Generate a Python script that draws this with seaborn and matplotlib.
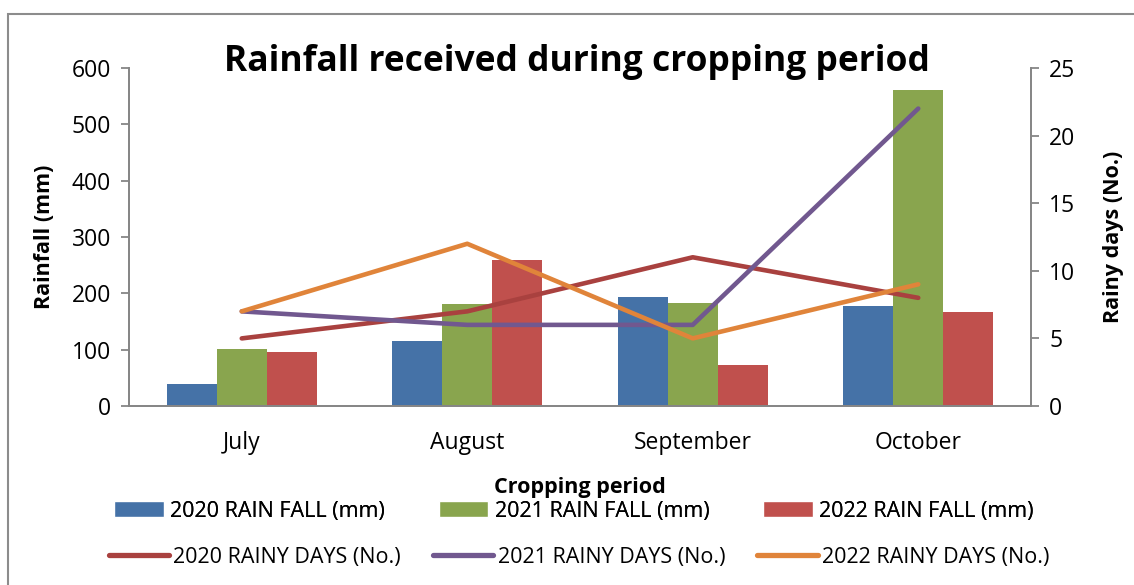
import matplotlib
matplotlib.use("Agg")
import matplotlib.pyplot as plt
import seaborn as sns
import pandas as pd
from matplotlib.patches import Rectangle
from matplotlib.lines import Line2D
from matplotlib.patches import Patch

months = ["July", "August", "September", "October"]
rain_2020 = [39, 115, 193, 178]
rain_2021 = [101, 181, 183, 561]
rain_2022 = [96, 259, 73, 167]
days_2020 = [5, 7, 11, 8]
days_2021 = [7, 6, 6, 22]
days_2022 = [7, 12, 5, 9]

bar_labels = ["2020 RAIN FALL (mm)", "2021 RAIN FALL (mm)", "2022 RAIN FALL (mm)"]
line_labels = ["2020 RAINY DAYS (No.)", "2021 RAINY DAYS (No.)", "2022 RAINY DAYS (No.)"]
bar_colors = ["#4572A7", "#89A54E", "#C0504D"]
line_colors = ["#A9413F", "#71588F", "#E0843A"]

sns.set_theme(style="white")
plt.rcParams["font.family"] = ["Open Sans", "DejaVu Sans"]
plt.rcParams["text.color"] = "black"
plt.rcParams["axes.labelcolor"] = "black"
plt.rcParams["xtick.color"] = "black"
plt.rcParams["ytick.color"] = "black"

bars = pd.DataFrame({
    "Month": months * 3,
    "Rain": rain_2020 + rain_2021 + rain_2022,
    "Series": [bar_labels[0]] * 4 + [bar_labels[1]] * 4 + [bar_labels[2]] * 4,
})
lines = pd.DataFrame({
    "Month": months * 3,
    "Days": days_2020 + days_2021 + days_2022,
    "Series": [line_labels[0]] * 4 + [line_labels[1]] * 4 + [line_labels[2]] * 4,
})

fig = plt.figure(figsize=(11.34, 5.85), dpi=100)
ax = fig.add_axes([129 / 1134, 1 - 406 / 585, (1031 - 129) / 1134, (406 - 68) / 585])

sns.barplot(data=bars, x="Month", y="Rain", hue="Series", palette=bar_colors,
            order=months, hue_order=bar_labels, width=0.667, saturation=1,
            ax=ax, legend=False, errorbar=None, linewidth=0)
ax.set_ylim(0, 600)
ax.set_yticks(range(0, 601, 100))

ax2 = ax.twinx()
ax2.set_position(ax.get_position())
lines["x"] = lines["Month"].map({m: i for i, m in enumerate(months)})
sns.lineplot(data=lines, x="x", y="Days", hue="Series", palette=line_colors,
             hue_order=line_labels, ax=ax2, legend=False, linewidth=3.3,
             solid_capstyle="round", solid_joinstyle="round")
ax2.set_ylim(0, 25)
ax2.set_yticks(range(0, 26, 5))
ax.set_xlim(-0.5, 3.5)

spine_col = "#868686"
for a in (ax, ax2):
    a.spines["top"].set_visible(False)
    for s in ("left", "right", "bottom"):
        a.spines[s].set_color(spine_col)
        a.spines[s].set_linewidth(1.3)
    a.tick_params(axis="y", length=6, width=1.3, color=spine_col, labelsize=16.5, pad=7,
                  labelcolor="black")
ax.tick_params(axis="y", left=True, right=False)
ax2.tick_params(axis="y", left=False, right=True)
ax.tick_params(axis="x", length=0, labelsize=16.5, pad=18, labelcolor="black")
ax2.set_xlabel("")
ax.set_xlabel("Cropping period", fontsize=15.5, fontweight="bold", labelpad=16)
ax.set_ylabel("Rainfall (mm)", fontsize=15.5, fontweight="bold", labelpad=12)
ax2.set_ylabel("Rainy days (No.)", fontsize=15.5, fontweight="bold", labelpad=20)
ax.grid(False)
ax2.grid(False)

fig.text(577 / 1134, 1 - 62 / 585, "Rainfall received during cropping period",
         ha="center", va="center", fontsize=25.5, fontweight="bold")

h1 = [Patch(facecolor=c, label=l) for c, l in zip(bar_colors, bar_labels)]
h2 = [Line2D([], [], color=c, lw=3.8, solid_capstyle="round", label=l)
      for c, l in zip(line_colors, line_labels)]
leg1 = fig.legend(handles=h1, loc="center", bbox_to_anchor=(574 / 1134, 1 - 511 / 585),
                  ncol=3, frameon=False, fontsize=15.5, handlelength=2.3, handleheight=0.7,
                  handletextpad=0.3, columnspacing=2.5)
leg2 = fig.legend(handles=h2, loc="center", bbox_to_anchor=(579 / 1134, 1 - 557 / 585),
                  ncol=3, frameon=False, fontsize=15.5, handlelength=2.8,
                  handletextpad=0.2, columnspacing=1.5)
fig.add_artist(leg1)

fig.patches.append(Rectangle((8 / 1134, -0.1), 1.2, 1.1 - 14 / 585, transform=fig.transFigure,
                             fill=False, edgecolor="#8C8C8C", linewidth=1.5, zorder=0))

fig.savefig("out.png", dpi=100)
